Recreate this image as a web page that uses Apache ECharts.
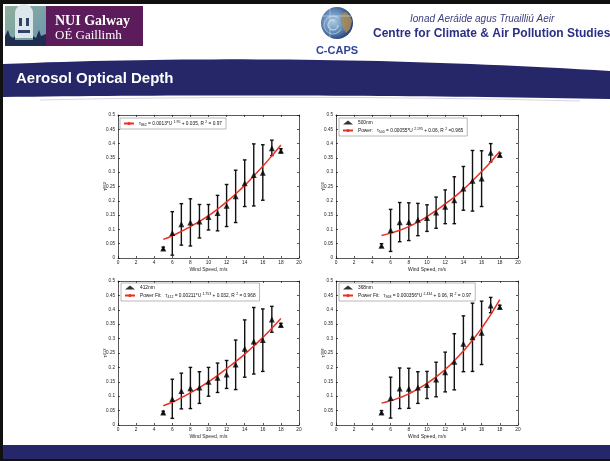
<!DOCTYPE html>
<html><head><meta charset="utf-8">
<script src="https://cdn.jsdelivr.net/npm/echarts@6/dist/echarts.min.js"></script>
<style>html,body{margin:0;padding:0;background:#fff}#c{width:610px;height:461px}</style>
</head><body><div id="c"></div>
<script>
// ---------- DATA ----------
const windSpeed = [5,6,7,8,9,10,11,12,13,14,15,16,17,18];
const xTickLabels = ['0','2','4','6','8','10','12','14','16','18','20'];
const yTickLabels = ['0','0.05','0.1','0.15','0.2','0.25','0.3','0.35','0.4','0.45','0.5'];

const tau862Mean = [0.033,0.087,0.118,0.124,0.128,0.143,0.157,0.183,0.216,0.261,0.290,0.298,0.384,0.375];
const tau862Low  = [0.028,0.010,0.045,0.042,0.070,0.098,0.095,0.110,0.124,0.180,0.182,0.202,0.358,0.368];
const tau862High = [0.038,0.162,0.190,0.207,0.187,0.187,0.219,0.257,0.307,0.343,0.399,0.396,0.412,0.382];
const tau862Fit  = [0.065,0.078,0.093,0.110,0.128,0.148,0.171,0.196,0.224,0.254,0.287,0.321,0.357,0.395];

const tau500Mean = [0.043,0.097,0.125,0.126,0.134,0.140,0.159,0.179,0.202,0.243,0.270,0.278,0.368,0.360];
const tau500Low  = [0.038,0.023,0.057,0.061,0.078,0.093,0.104,0.120,0.120,0.167,0.164,0.180,0.336,0.355];
const tau500High = [0.050,0.170,0.194,0.193,0.191,0.186,0.213,0.238,0.284,0.320,0.376,0.375,0.400,0.367];
const tau500Fit  = [0.079,0.087,0.097,0.110,0.126,0.145,0.166,0.189,0.213,0.240,0.270,0.302,0.336,0.373];

const tau412Mean = [0.043,0.090,0.118,0.128,0.130,0.150,0.164,0.175,0.210,0.265,0.290,0.295,0.366,0.347];
const tau412Low  = [0.038,0.023,0.056,0.057,0.075,0.100,0.113,0.127,0.123,0.166,0.177,0.186,0.322,0.342];
const tau412High = [0.048,0.159,0.180,0.200,0.185,0.200,0.215,0.224,0.295,0.365,0.408,0.403,0.412,0.353];
const tau412Fit  = [0.067,0.079,0.095,0.112,0.130,0.150,0.172,0.196,0.220,0.246,0.274,0.304,0.336,0.370];

const tau368Mean = [0.043,0.094,0.127,0.126,0.130,0.139,0.158,0.183,0.220,0.282,0.305,0.320,0.415,0.410];
const tau368Low  = [0.038,0.024,0.057,0.058,0.075,0.092,0.098,0.115,0.122,0.185,0.186,0.210,0.390,0.405];
const tau368High = [0.050,0.166,0.198,0.197,0.185,0.186,0.218,0.253,0.317,0.379,0.423,0.430,0.443,0.416];
const tau368Fit  = [0.076,0.084,0.095,0.108,0.125,0.145,0.167,0.193,0.223,0.257,0.294,0.336,0.383,0.435];

// ---------- PANELS ----------
const panels = [
  {wl:'862', mean:tau862Mean, lo:tau862Low, hi:tau862High, fit:tau862Fit, showMarkerInLegend:false,
   fitLabel:'{t|τ}{s|862}{t| = 0.0013*U }{p|1.95}{t| + 0.035, R }{p|2}{t| = 0.97}',
   grid:{left:118, top:115, width:181, height:143}, legendPos:{left:120, top:118}},
  {wl:'500', mean:tau500Mean, lo:tau500Low, hi:tau500High, fit:tau500Fit, showMarkerInLegend:true,
   fitLabel:'{t|Power:   τ}{s|500}{t| = 0.00055*U }{p|2.195}{t| + 0.06, R }{p|2}{t| =0.965}',
   grid:{left:336, top:115, width:182, height:143}, legendPos:{left:339, top:118}},
  {wl:'412', mean:tau412Mean, lo:tau412Low, hi:tau412High, fit:tau412Fit, showMarkerInLegend:true,
   fitLabel:'{t|Power Fit:   τ}{s|412}{t| = 0.00211*U }{p|1.753}{t| + 0.032, R }{p|2}{t| = 0.968}',
   grid:{left:118, top:281, width:181, height:144}, legendPos:{left:121, top:283}},
  {wl:'368', mean:tau368Mean, lo:tau368Low, hi:tau368High, fit:tau368Fit, showMarkerInLegend:true,
   fitLabel:'{t|Power Fit:   τ}{s|368}{t| = 0.000356*U }{p|2.434}{t| + 0.06, R }{p|2}{t| = 0.97}',
   grid:{left:336, top:281, width:182, height:144}, legendPos:{left:339, top:283}}
];

const FONT = 'Liberation Sans';
const axisLineStyle = {color:'#111', width:0.7};

function errRender(params, api){
  const x = api.value(0), lo = api.value(1), hi = api.value(2);
  const a = api.coord([x, lo]), b = api.coord([x, hi]);
  const cap = 1.8, st = {stroke:'#111', lineWidth:1.4};
  return {type:'group', children:[
    {type:'line', shape:{x1:a[0],y1:a[1],x2:b[0],y2:b[1]}, style:st},
    {type:'line', shape:{x1:a[0]-cap,y1:a[1],x2:a[0]+cap,y2:a[1]}, style:st},
    {type:'line', shape:{x1:b[0]-cap,y1:b[1],x2:b[0]+cap,y2:b[1]}, style:st}
  ]};
}

const grids=[], xAxes=[], yAxes=[], series=[], legends=[];
const richLegend = {
  t:{fontSize:4.8, fontFamily:FONT, color:'#111'},
  s:{fontSize:3.5, fontFamily:FONT, color:'#111', padding:[3,0,0,0]},
  p:{fontSize:3.5, fontFamily:FONT, color:'#111', padding:[0,0,3,0]}
};
panels.forEach((p,i)=>{
  grids.push(Object.assign({show:false, containLabel:false}, p.grid));
  xAxes.push({gridIndex:i, type:'value', min:0, max:20, interval:2, position:'bottom',
    axisLine:{show:true, onZero:false, lineStyle:axisLineStyle},
    axisTick:{show:true, inside:true, length:2, lineStyle:axisLineStyle},
    axisLabel:{fontSize:4.8, color:'#222', fontFamily:FONT, margin:2,
      formatter:(v)=>xTickLabels[Math.round(v/2)]},
    splitLine:{show:false},
    name:'Wind Speed, m/s', nameLocation:'middle', nameGap:9, nameMoveOverlap:false,
    nameTextStyle:{fontSize:5, color:'#222', fontFamily:FONT}});
  yAxes.push({gridIndex:i, type:'value', min:0, max:0.5, interval:0.05, position:'left',
    axisLine:{show:true, onZero:false, lineStyle:axisLineStyle},
    axisTick:{show:true, inside:true, length:2, lineStyle:axisLineStyle},
    axisLabel:{fontSize:4.6, color:'#222', fontFamily:FONT, margin:3,
      formatter:(v)=>yTickLabels[Math.round(v/0.05)]},
    splitLine:{show:false},
    name:'{t|τ}{s|'+p.wl+'}', nameLocation:'middle', nameGap:10, nameRotate:90, nameMoveOverlap:false,
    nameTextStyle:{rich:{t:{fontSize:6, fontFamily:FONT, color:'#222'}, s:{fontSize:4, fontFamily:FONT, color:'#222'}}}});
});
panels.forEach((p,i)=>{
  xAxes.push({gridIndex:i, type:'value', min:0, max:20, interval:2, position:'top',
    axisLine:{show:true, onZero:false, lineStyle:axisLineStyle},
    axisTick:{show:true, inside:true, length:2, lineStyle:axisLineStyle},
    axisLabel:{show:false}, splitLine:{show:false}});
  yAxes.push({gridIndex:i, type:'value', min:0, max:0.5, interval:0.05, position:'right',
    axisLine:{show:true, onZero:false, lineStyle:axisLineStyle},
    axisTick:{show:true, inside:true, length:2, lineStyle:axisLineStyle},
    axisLabel:{show:false}, splitLine:{show:false}});

  const errData = windSpeed.map((u,k)=>[u, p.lo[k], p.hi[k]]);
  const meanData = windSpeed.map((u,k)=>[u, p.mean[k]]);
  const fitData = windSpeed.map((u,k)=>[u, p.fit[k]]);
  const meanName = p.wl+'nm', fitName = p.wl+' fit';
  series.push({type:'custom', name:p.wl+' err', xAxisIndex:i, yAxisIndex:i, renderItem:errRender,
    encode:{x:0, y:[1,2]}, data:errData, z:2, silent:true});
  series.push({type:'line', name:fitName, xAxisIndex:i, yAxisIndex:i, data:fitData, smooth:true,
    symbol:'none', lineStyle:{color:'#ec2f24', width:1.5}, itemStyle:{color:'#ec2f24'}, z:3, silent:true});
  series.push({type:'scatter', name:meanName, xAxisIndex:i, yAxisIndex:i, data:meanData,
    symbol:'triangle', symbolSize:[6,6], itemStyle:{color:'#000'}, z:4, silent:true});

  const labels = {};
  labels[meanName] = '{t|'+meanName+'}';
  labels[fitName] = p.fitLabel;
  legends.push({
    left:p.legendPos.left, top:p.legendPos.top, orient:'vertical',
    data: p.showMarkerInLegend ? [{name:meanName, icon:'triangle', itemStyle:{color:'#000'}}, fitName] : [fitName],
    itemWidth:10, itemHeight:4, itemGap:2, padding:[2,4,2,3],
    borderColor:'#8a8a8a', borderWidth:0.6, backgroundColor:'#fff', selectedMode:false,
    formatter:(n)=>labels[n],
    textStyle:{fontSize:4.8, fontFamily:FONT, color:'#111', rich:richLegend}
  });
});

// ---------- SLIDE DECORATION ----------
const NAVY = '#262769';
function quad(p0, c, p1, n){
  const pts=[];
  for(let k=0;k<=n;k++){const t=k/n, u=1-t;
    pts.push([u*u*p0[0]+2*u*t*c[0]+t*t*p1[0], u*u*p0[1]+2*u*t*c[1]+t*t*p1[1]]);}
  return pts;
}
const bandTop = quad([3,64],[300,52],[610,71],40);
const bandBot = quad([610,99],[300,93],[3,97],40);
const graphics = [
  {type:'rect', shape:{x:0,y:0,width:610,height:4}, style:{fill:'#111'}},
  {type:'rect', shape:{x:0,y:0,width:3,height:461}, style:{fill:'#111'}},
  {type:'rect', shape:{x:0,y:459,width:610,height:2}, style:{fill:'#111'}},
  {type:'rect', shape:{x:3,y:445,width:607,height:14}, style:{fill:NAVY}},
  {type:'polygon', shape:{points:bandTop.concat(bandBot)}, style:{fill:NAVY}},
  {type:'bezierCurve', shape:{x1:40,y1:100,cpx1:300,cpy1:94,x2:580,y2:101}, style:{fill:null, stroke:'#d6d6e2', lineWidth:1.2}},
  {type:'text', style:{text:'Aerosol Optical Depth', x:16, y:79, fill:'#fff', font:'bold 15px "Liberation Sans"', verticalAlign:'middle'}},
  // NUI Galway logo
  {type:'rect', shape:{x:5,y:6,width:41,height:40}, style:{fill:{type:'linear',x:0,y:0,x2:1,y2:1,colorStops:[{offset:0,color:'#8fb09a'},{offset:1,color:'#6a96b0'}]}}},
  {type:'rect', shape:{x:15,y:13,width:18,height:25}, style:{fill:'#dde6ea'}},
  {type:'sector', shape:{cx:24,cy:13,r:9,r0:0,startAngle:Math.PI,endAngle:2*Math.PI}, style:{fill:'#dde6ea'}},
  {type:'rect', shape:{x:19,y:18,width:3,height:8}, style:{fill:'#31436a'}},
  {type:'rect', shape:{x:26,y:18,width:3,height:8}, style:{fill:'#31436a'}},
  {type:'rect', shape:{x:18,y:30,width:12,height:3}, style:{fill:'#31436a'}},
  {type:'polygon', shape:{points:[[5,46],[5,36],[8,30],[10,36],[13,38],[15,36],[15,40],[33,40],[33,36],[36,38],[39,30],[41,36],[46,34],[46,46]]}, style:{fill:'#1f2d50'}},
  {type:'rect', shape:{x:46,y:6,width:97,height:40}, style:{fill:'#5c1b5a'}},
  {type:'text', style:{text:'NUI Galway', x:55, y:21, fill:'#fff', font:'bold 14px "Liberation Serif"', verticalAlign:'middle'}},
  {type:'text', style:{text:'OÉ Gaillimh', x:55, y:36, fill:'#fff', font:'13px "Liberation Serif"', verticalAlign:'middle'}},
  // C-CAPS globe
  {type:'circle', shape:{cx:337,cy:23,r:16}, style:{fill:{type:'radial',x:0.4,y:0.45,r:0.6,colorStops:[{offset:0,color:'#a9cbe3'},{offset:0.6,color:'#5d86b5'},{offset:1,color:'#25406f'}]}}},
  {type:'polygon', shape:{points:[[341,14],[346,12],[350,16],[352,21],[350,29],[346,33],[343,28],[341,22]]}, style:{fill:'#a88a55', opacity:0.85}},
  {type:'arc', shape:{cx:333,cy:25,r:5,startAngle:0,endAngle:5}, style:{stroke:'#e8f0f8', lineWidth:0.8, fill:null}},
  {type:'arc', shape:{cx:333,cy:25,r:9,startAngle:0.5,endAngle:5.5}, style:{stroke:'#e8f0f8', lineWidth:0.7, fill:null, opacity:0.8}},
  {type:'line', shape:{x1:322,y1:16,x2:352,y2:16}, style:{stroke:'#dfe8f2', lineWidth:0.5}},
  {type:'line', shape:{x1:330,y1:9,x2:330,y2:38}, style:{stroke:'#dfe8f2', lineWidth:0.5}},
  {type:'text', style:{text:'C-CAPS', x:337, y:51, fill:'#2f4597', font:'bold 11px "Liberation Sans"', align:'center', verticalAlign:'middle'}},
  {type:'text', style:{text:'Ionad Aeráide agus Truailliú Aeir', x:410, y:19, fill:'#3b3f7c', font:'italic 10px "Liberation Sans"', verticalAlign:'middle'}},
  {type:'text', style:{text:'Centre for Climate & Air Pollution Studies', x:373, y:34, fill:'#2b2f86', font:'bold 12px "Liberation Sans"', verticalAlign:'middle'}}
];

const chart = echarts.init(document.getElementById('c'), null, {renderer:'canvas'});
chart.setOption({
  animation:false,
  backgroundColor:'#fff',
  grid:grids, xAxis:xAxes, yAxis:yAxes, series:series, legend:legends,
  graphic:{elements:graphics}
});
</script></body></html>
